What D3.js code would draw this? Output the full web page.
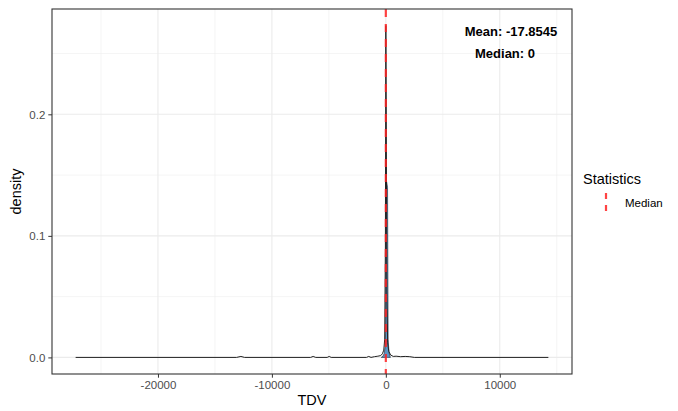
<!DOCTYPE html>
<html>
<head>
<meta charset="utf-8">
<script src="https://cdn.jsdelivr.net/npm/d3@7"></script>
<style>
  body { margin: 0; background: #fff; }
  text { font-family: "Liberation Sans", Arial, sans-serif; }
</style>
</head>
<body>
<svg id="chart" width="678" height="411"></svg>
<script>
// density line of TDV (black)
let tdv = [-27225, -13100, -12720, -12400, -6600, -6380, -6150, -5150, -4970, -4800,
  -1700, -1500, -1300, -1000, -700, -450, -300, -180, -100, -40, 0, 40, 90, 160,
  260, 420, 650, 900, 1300, 1700, 2100, 2500, 14265]
let dens = [0, 0, 0.0008, 0, 0, 0.0008, 0, 0, 0.0008, 0,
  0, 0.0008, 0, 0.0006, 0.001, 0.0015, 0.003, 0.006, 0.015, 0.09, 0.273, 0.2, 0.05, 0.012,
  0.005, 0.002, 0.0008, 0.001, 0.0006, 0.0008, 0.0006, 0, 0]

// filled density near zero (steelblue)
let fillX = [-400, -250, -150, -70, -20, 0, 60, 150, 200, 280, 400]
let fillY = [0, 0.001, 0.003, 0.008, 0.02, 0.145, 0.145, 0.14, 0.015, 0.004, 0]

let xTicks = [-20000, -10000, 0, 10000]
let xMinor = [-25000, -15000, -5000, 5000, 15000]
let yTicks = [0, 0.1, 0.2]
let yMinor = [0.05, 0.15, 0.25]

let meanVal = -17.8545
let medianVal = 0

let svg = d3.select('#chart')
svg.append('rect').attr('width', 678).attr('height', 411).attr('fill', '#fff')

let pLeft = 52, pRight = 572, pTop = 9, pBottom = 374

let xr = d3.extent(tdv), xw = xr[1] - xr[0]
let x = d3.scaleLinear()
  .domain([xr[0] - 0.05 * xw, xr[1] + 0.05 * xw])
  .range([pLeft, pRight])

let ymax = d3.max(dens)
let y = d3.scaleLinear()
  .domain([-0.05 * ymax, ymax * 1.05])
  .range([pBottom, pTop])

let g = svg.append('g')

// grid
g.selectAll('.xminor').data(xMinor).enter().append('line')
  .attr('x1', d => x(d)).attr('x2', d => x(d))
  .attr('y1', pTop).attr('y2', pBottom)
  .attr('stroke', '#ebebeb').attr('stroke-width', 0.55)
g.selectAll('.yminor').data(yMinor).enter().append('line')
  .attr('y1', d => y(d)).attr('y2', d => y(d))
  .attr('x1', pLeft).attr('x2', pRight)
  .attr('stroke', '#ebebeb').attr('stroke-width', 0.55)
g.selectAll('.xmajor').data(xTicks).enter().append('line')
  .attr('x1', d => x(d)).attr('x2', d => x(d))
  .attr('y1', pTop).attr('y2', pBottom)
  .attr('stroke', '#ebebeb').attr('stroke-width', 1.1)
g.selectAll('.ymajor').data(yTicks).enter().append('line')
  .attr('y1', d => y(d)).attr('y2', d => y(d))
  .attr('x1', pLeft).attr('x2', pRight)
  .attr('stroke', '#ebebeb').attr('stroke-width', 1.1)

// blue filled density
let area = d3.area().x((d, i) => x(fillX[i])).y0(y(0)).y1(d => y(d))
g.append('path').datum(fillY)
  .attr('d', area)
  .attr('fill', '#5b94c4')
  .attr('stroke', '#2a3a4a')
  .attr('stroke-width', 0.7)

// black density line
let line = d3.line().x((d, i) => x(tdv[i])).y(d => y(d))
g.append('path').datum(dens)
  .attr('d', line)
  .attr('fill', 'none')
  .attr('stroke', '#222')
  .attr('stroke-width', 1)

// median line
g.append('line')
  .attr('x1', x(medianVal)).attr('x2', x(medianVal))
  .attr('y1', pTop).attr('y2', pBottom)
  .attr('stroke', '#f22')
  .attr('stroke-opacity', 0.85)
  .attr('stroke-width', 2.2)
  .attr('stroke-dasharray', '8,7')

// annotations
svg.append('text').attr('x', 511).attr('y', 36)
  .attr('text-anchor', 'middle').attr('font-size', 13).attr('font-weight', 'bold')
  .attr('fill', '#000').text('Mean: ' + meanVal)
svg.append('text').attr('x', 505).attr('y', 58)
  .attr('text-anchor', 'middle').attr('font-size', 13).attr('font-weight', 'bold')
  .attr('fill', '#000').text('Median: ' + medianVal)

// panel border
svg.append('rect')
  .attr('x', pLeft).attr('y', pTop)
  .attr('width', pRight - pLeft).attr('height', pBottom - pTop)
  .attr('fill', 'none').attr('stroke', '#333').attr('stroke-width', 1.1)

// axes
let xAxis = d3.axisBottom(x).tickValues(xTicks).tickSize(3.7).tickPadding(3)
  .tickFormat(d3.format('d'))
let ax = svg.append('g').attr('transform', `translate(0,${pBottom})`).call(xAxis)
ax.select('.domain').remove()
ax.selectAll('line').attr('stroke', '#333')
ax.selectAll('text').attr('fill', '#4d4d4d').attr('font-size', 11.5)
  .attr('font-family', '"Liberation Sans", Arial, sans-serif')
  .text(d => d < 0 ? '-' + Math.abs(d) : d)

let yAxis = d3.axisLeft(y).tickValues(yTicks).tickSize(3.7).tickPadding(3)
  .tickFormat(d3.format('.1f'))
let ay = svg.append('g').attr('transform', `translate(${pLeft},0)`).call(yAxis)
ay.select('.domain').remove()
ay.selectAll('line').attr('stroke', '#333')
ay.selectAll('text').attr('fill', '#4d4d4d').attr('font-size', 11.5)
  .attr('font-family', '"Liberation Sans", Arial, sans-serif')

// axis titles
svg.append('text').attr('x', (pLeft + pRight) / 2).attr('y', 405)
  .attr('text-anchor', 'middle').attr('font-size', 14.5).attr('fill', '#000').text('TDV')
svg.append('text').attr('transform', `translate(21,${(pTop + pBottom) / 2}) rotate(-90)`)
  .attr('text-anchor', 'middle').attr('font-size', 14.5).attr('fill', '#000').text('density')

// legend
svg.append('text').attr('x', 583).attr('y', 184)
  .attr('font-size', 14.5).attr('fill', '#000').text('Statistics')
svg.append('line')
  .attr('x1', 606).attr('x2', 606).attr('y1', 193).attr('y2', 213)
  .attr('stroke', '#f22').attr('stroke-opacity', 0.85)
  .attr('stroke-width', 2.2).attr('stroke-dasharray', '6,6')
svg.append('text').attr('x', 625).attr('y', 207)
  .attr('font-size', 11.5).attr('fill', '#000').text('Median')
</script>
</body>
</html>
